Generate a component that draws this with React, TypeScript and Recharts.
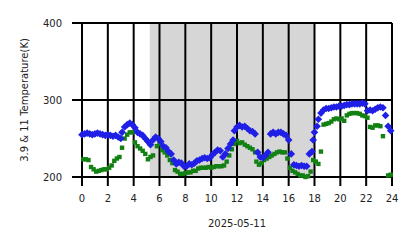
import React from 'react';
import { ScatterChart, Scatter, XAxis, YAxis, ReferenceArea, ReferenceLine } from 'recharts';

const blueHours = [0.0,0.2,0.4,0.6,0.8,1.0,1.2,1.4,1.6,1.8,2.0,2.2,2.4,2.6,2.8,3.0,3.1,3.3,3.5,3.7,3.9,4.1,4.3,4.5,4.7,4.9,5.1,5.3,5.5,5.7,5.9,6.1,6.3,6.5,6.7,6.9,7.1,7.3,7.5,7.7,7.9,8.1,8.3,8.5,8.7,8.9,9.1,9.3,9.5,9.7,9.9,10.1,10.3,10.5,10.7,10.9,11.1,11.3,11.5,11.7,11.8,12.0,12.2,12.4,12.6,12.8,13.0,13.2,13.4,13.6,13.8,14.0,14.2,14.4,14.6,14.8,15.0,15.2,15.4,15.6,15.8,16.0,16.2,16.4,16.6,16.8,17.0,17.2,17.4,17.6,17.8,17.9,18.0,18.2,18.3,18.5,18.7,18.9,19.1,19.3,19.5,19.7,19.9,20.1,20.3,20.5,20.7,20.9,21.1,21.3,21.5,21.7,21.9,22.1,22.3,22.5,22.7,22.9,23.1,23.3,23.5,23.7,23.9];
const blueTemps = [255,256,257,256,255,256,257,256,255,254,255,254,253,254,252,250,258,265,268,270,268,264,258,256,254,250,246,242,248,252,250,246,240,238,233,230,222,217,219,218,214,214,217,216,218,221,222,224,225,224,225,229,232,235,234,226,230,237,243,248,260,265,267,265,266,263,260,259,256,232,226,225,228,232,256,258,256,258,258,256,254,248,230,216,215,214,215,214,214,230,233,248,258,266,275,283,287,289,289,290,291,291,292,292,293,294,294,295,295,295,295,296,295,286,287,286,288,290,291,290,280,266,260];

const greenHours = [0.1,0.3,0.5,0.7,0.9,1.1,1.3,1.5,1.7,1.9,2.1,2.3,2.5,2.7,2.9,3.1,3.3,3.5,3.7,3.9,4.1,4.3,4.5,4.7,4.9,5.1,5.3,5.5,5.8,6.0,6.2,6.4,6.6,6.8,7.0,7.2,7.4,7.6,7.8,8.0,8.2,8.4,8.6,8.8,9.0,9.2,9.4,9.6,9.8,10.0,10.2,10.4,10.6,10.8,11.0,11.2,11.4,11.6,11.8,12.0,12.2,12.4,12.6,12.8,13.0,13.2,13.4,13.5,13.7,13.9,14.1,14.3,14.5,14.7,14.9,15.1,15.3,15.5,15.7,15.9,16.1,16.3,16.5,16.7,16.9,17.1,17.3,17.5,17.7,17.9,18.1,18.3,18.5,18.7,18.9,19.1,19.3,19.5,19.7,19.9,20.1,20.3,20.5,20.7,20.9,21.1,21.3,21.5,21.7,21.9,22.1,22.3,22.5,22.7,22.9,23.1,23.3,23.7,23.9];
const greenTemps = [223,223,222,213,210,207,208,209,210,210,212,215,221,224,226,238,250,255,258,258,245,240,237,234,230,223,226,228,240,243,235,232,228,222,218,209,207,204,204,205,206,206,208,208,211,212,212,212,213,212,213,214,214,214,215,220,228,236,243,247,244,245,242,240,238,236,232,220,216,218,222,224,226,228,230,232,233,232,232,224,212,208,206,204,202,202,200,201,207,222,220,217,233,268,269,270,272,275,276,275,276,273,280,282,283,283,283,282,280,279,277,265,264,267,267,266,253,202,203];

const xTicks = [0, 2, 4, 6, 8, 10, 12, 14, 16, 18, 20, 22, 24];
const yTicks = [200, 300, 400];
const nightStart = 5.25;
const nightEnd = 18;
const xLabel = '2025-05-11';
const yLabel = '3.9 & 11 Temperature(K)';

const blueData = blueHours.map((h, i) => ({ h, k: blueTemps[i] }));
const greenData = greenHours.map((h, i) => ({ h, k: greenTemps[i] }));

const Diamond = (props: any) => {
  const { cx, cy } = props;
  const r = 3.8;
  return <polygon points={`${cx},${cy - r} ${cx + r},${cy} ${cx},${cy + r} ${cx - r},${cy}`} fill="#1f1fe6" />;
};
const Square = (props: any) => {
  const { cx, cy } = props;
  const s = 4.4;
  return <rect x={cx - s / 2} y={cy - s / 2} width={s} height={s} fill="#138013" />;
};

const font = { fontFamily: 'DejaVu Sans', fontSize: 10, fill: '#222' };

const YLabel = (props: any) => {
  const vb = props.viewBox || {};
  const x = (vb.x || 0) + 24;
  const y = (vb.y || 0) + (vb.height || 0) / 2;
  return (
    <text x={x} y={y} transform={`rotate(-90, ${x}, ${y})`} textAnchor="middle" dominantBaseline="central" style={font}>
      {yLabel}
    </text>
  );
};

export default function App() {
  return (
    <div style={{ position: 'absolute', left: 0, top: 0 }}>
      <ScatterChart width={418} height={248} margin={{ top: 23, right: 26, left: 0, bottom: 0 }}>
        <ReferenceArea x1={nightStart} x2={nightEnd} y1={200} y2={400} fill="#d6d6d6" fillOpacity={1} stroke="none" />
        {xTicks.map((t) => (
          <ReferenceLine key={'x' + t} x={t} stroke="#000" strokeWidth={2} />
        ))}
        {yTicks.map((t) => (
          <ReferenceLine key={'y' + t} y={t} stroke="#000" strokeWidth={2} />
        ))}
        <XAxis
          type="number"
          dataKey="h"
          domain={[0, 24]}
          ticks={xTicks}
          interval={0}
          height={71}
          tickSize={9}
          tickMargin={9}
          tick={font}
          axisLine={{ stroke: '#000', strokeWidth: 2 }}
          tickLine={{ stroke: '#000', strokeWidth: 2 }}
          label={{ value: xLabel, position: 'insideBottom', offset: 21, style: font }}
        />
        <YAxis
          type="number"
          dataKey="k"
          domain={[200, 400]}
          ticks={yTicks}
          interval={0}
          width={82}
          tickSize={10}
          tickMargin={10}
          tick={font}
          axisLine={{ stroke: '#000', strokeWidth: 2 }}
          tickLine={{ stroke: '#000', strokeWidth: 2 }}
          label={{ content: <YLabel /> }}
        />
        <Scatter data={greenData} shape={<Square />} isAnimationActive={false} />
        <Scatter data={blueData} shape={<Diamond />} isAnimationActive={false} />
      </ScatterChart>
    </div>
  );
}
